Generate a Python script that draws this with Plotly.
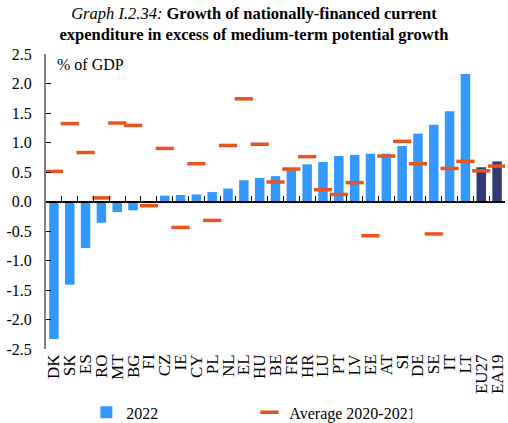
import plotly.graph_objects as go

categories = ["DK", "SK", "ES", "RO", "MT", "BG", "FI", "CZ", "IE", "CY", "PL", "NL", "EL", "HU",
              "BE", "FR", "HR", "LU", "PT", "LV", "EE", "AT", "SI", "DE", "SE", "IT", "LT", "EU27", "EA19"]
growth_2022 = [-2.33, -1.41, -0.79, -0.36, -0.18, -0.15, -0.02, 0.10, 0.11, 0.12, 0.16, 0.22, 0.36, 0.40,
               0.43, 0.53, 0.63, 0.67, 0.77, 0.79, 0.81, 0.81, 0.94, 1.15, 1.30, 1.53, 2.16, 0.58, 0.68]
avg_2020_2021 = [0.51, 1.32, 0.83, 0.06, 1.33, 1.29, -0.07, 0.90, -0.44, 0.64, -0.32, 0.95, 1.74, 0.97,
                 0.33, 0.55, 0.76, 0.20, 0.12, 0.32, -0.58, 0.77, 1.02, 0.64, -0.55, 0.56, 0.68, 0.52, 0.60]
yticks = [2.5, 2.0, 1.5, 1.0, 0.5, 0.0, -0.5, -1.0, -1.5, -2.0, -2.5]

BLUE = "#3399FF"
NAVY = "#333A73"
ORANGE = "#E8531E"
FONT = "Liberation Serif"

bar_colors = [NAVY if c in ("EU27", "EA19") else BLUE for c in categories]
xpos = list(range(len(categories)))
n = len(categories)

fig = go.Figure()
fig.add_trace(go.Bar(
    x=xpos, y=growth_2022, name="2022",
    marker=dict(color=bar_colors, line=dict(width=0)),
    width=0.6,
))
fig.add_trace(go.Scatter(
    x=xpos, y=avg_2020_2021, name="Average 2020-2021", mode="markers",
    marker=dict(symbol="line-ew", size=13, line=dict(width=3.5, color=ORANGE), color=ORANGE),
))
# invisible trace to activate the zero-line axis
fig.add_trace(go.Scatter(x=[-0.5, n - 0.5], y=[0, 0], xaxis="x2", mode="lines",
                         line=dict(width=0), hoverinfo="skip", showlegend=False))

fig.update_layout(
    width=508, height=423,
    margin=dict(l=46, r=3, t=54, b=74, autoexpand=False),
    paper_bgcolor="white", plot_bgcolor="white",
    font=dict(family=FONT, size=16, color="black"),
    title=dict(
        text="<i>Graph I.2.34:</i> <b>Growth of nationally-financed current</b><br><b>expenditure in excess of medium-term potential growth</b>",
        x=0.5, xref="container", xanchor="center",
        y=1, yref="container", yanchor="top", pad=dict(t=19),
        font=dict(family=FONT, size=16.5, color="black"),
    ),
    xaxis=dict(
        range=[-0.5, n - 0.5], tickmode="array", tickvals=xpos, ticktext=categories,
        tickangle=-90, showline=False, ticks="", showgrid=False, zeroline=False,
        tickfont=dict(family=FONT, size=17), ticklabelstandoff=1, automargin=False,
        ticklabeloverflow="allow",
    ),
    xaxis2=dict(
        overlaying="x", anchor="free", position=0.5, side="bottom",
        range=[-0.5, n - 0.5], tickmode="array", tickvals=[i + 0.5 for i in range(n - 1)],
        showticklabels=False, ticks="inside", ticklen=5, tickwidth=1, tickcolor="black",
        showline=True, linecolor="black", linewidth=1.5, showgrid=False, zeroline=False,
        automargin=False,
    ),
    yaxis=dict(
        range=[-2.5, 2.5], tickmode="array", tickvals=yticks,
        ticktext=[f"{v:.1f}" for v in yticks],
        ticks="inside", ticklen=5, tickwidth=1, tickcolor="black",
        showline=True, linecolor="#808080", linewidth=2, showgrid=False, zeroline=False,
        tickfont=dict(family=FONT, size=16), ticklabelstandoff=9, automargin=False,
    ),
    legend=dict(
        orientation="h", xref="container", x=0.17, xanchor="left",
        yref="container", y=0.025, yanchor="middle",
        font=dict(family=FONT, size=16), entrywidth=118, entrywidthmode="pixels",
        bgcolor="rgba(0,0,0,0)",
    ),
    showlegend=True,
    annotations=[dict(
        text="% of GDP", xref="paper", yref="paper", x=0.02, y=0.966,
        xanchor="left", yanchor="middle", showarrow=False,
        font=dict(family=FONT, size=16),
    )],
    bargap=0.4,
)

fig.write_html("out.html", config={"displayModeBar": False},
               post_script="document.body.style.margin='0';document.body.style.padding='0';")
